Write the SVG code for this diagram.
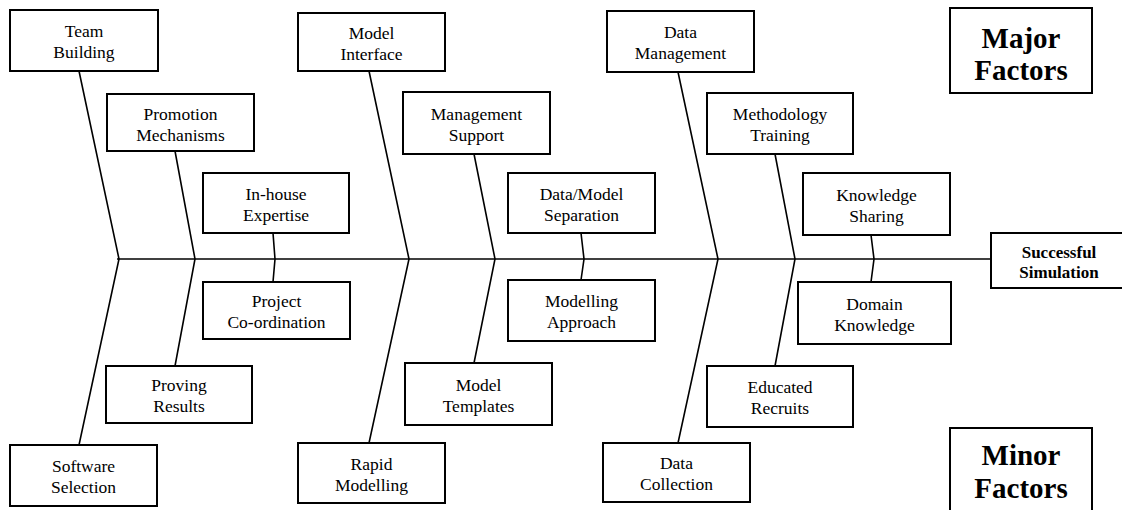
<svg xmlns="http://www.w3.org/2000/svg" width="1122" height="510" viewBox="0 0 1122 510">
<style>
.box{fill:#fff;stroke:#000;stroke-width:2}
.lbl{font-family:"Liberation Serif","Times New Roman",serif;font-size:17.5px;text-anchor:middle;fill:#000}
.big{font-family:"Liberation Serif","Times New Roman",serif;font-size:29px;font-weight:bold;text-anchor:middle;fill:#000}
.res{font-family:"Liberation Serif","Times New Roman",serif;font-size:17px;font-weight:bold;text-anchor:middle;fill:#000}
.ln{stroke:#000;stroke-width:1.6;fill:none}
</style>
<rect width="1122" height="510" fill="#fff"/>
<g id="connectors">
<line class="ln" x1="117" y1="259" x2="991" y2="259"/>
<polyline class="ln" points="79,71 119,259 79,445"/>
<polyline class="ln" points="175,151 195,259 175,366"/>
<polyline class="ln" points="273,233 275,259 273,282"/>
<polyline class="ln" points="369,71 409,259 369,443"/>
<polyline class="ln" points="474,154 495,259 474,363"/>
<polyline class="ln" points="581,233 584,259 581,280"/>
<polyline class="ln" points="678,72 718,259 678,443"/>
<polyline class="ln" points="775,154 795,259 775,366"/>
<polyline class="ln" points="871,235 874,259 871,282"/>
</g>
<g id="team-building"><rect class="box" x="10" y="10" width="148" height="61"/><text class="lbl" x="84" y="37">Team</text><text class="lbl" x="84" y="58">Building</text></g>
<g id="promotion-mechanisms"><rect class="box" x="107" y="94" width="147" height="57"/><text class="lbl" x="180.5" y="120">Promotion</text><text class="lbl" x="180.5" y="141">Mechanisms</text></g>
<g id="in-house-expertise"><rect class="box" x="203" y="173" width="146" height="60"/><text class="lbl" x="276" y="200">In-house</text><text class="lbl" x="276" y="221">Expertise</text></g>
<g id="model-interface"><rect class="box" x="298" y="13" width="147" height="58"/><text class="lbl" x="371.5" y="39">Model</text><text class="lbl" x="371.5" y="60">Interface</text></g>
<g id="management-support"><rect class="box" x="403" y="92" width="147" height="62"/><text class="lbl" x="476.5" y="120">Management</text><text class="lbl" x="476.5" y="141">Support</text></g>
<g id="data-model-separation"><rect class="box" x="508" y="173" width="147" height="60"/><text class="lbl" x="581.5" y="200">Data/Model</text><text class="lbl" x="581.5" y="221">Separation</text></g>
<g id="data-management"><rect class="box" x="607" y="11" width="147" height="61"/><text class="lbl" x="680.5" y="38">Data</text><text class="lbl" x="680.5" y="59">Management</text></g>
<g id="methodology-training"><rect class="box" x="707" y="93" width="146" height="61"/><text class="lbl" x="780" y="120">Methodology</text><text class="lbl" x="780" y="141">Training</text></g>
<g id="knowledge-sharing"><rect class="box" x="803" y="173" width="147" height="62"/><text class="lbl" x="876.5" y="201">Knowledge</text><text class="lbl" x="876.5" y="222">Sharing</text></g>
<g id="major-factors"><rect class="box" x="950" y="8" width="142" height="85"/><text class="big" x="1021" y="48">Major</text><text class="big" x="1021" y="80">Factors</text></g>
<g id="successful-simulation"><rect class="box" x="991" y="233" width="136" height="55"/><text class="res" x="1059" y="258">Successful</text><text class="res" x="1059" y="278">Simulation</text></g>
<g id="software-selection"><rect class="box" x="10" y="445" width="147" height="61"/><text class="lbl" x="83.5" y="472">Software</text><text class="lbl" x="83.5" y="493">Selection</text></g>
<g id="proving-results"><rect class="box" x="106" y="366" width="146" height="57"/><text class="lbl" x="179" y="391">Proving</text><text class="lbl" x="179" y="412">Results</text></g>
<g id="project-coordination"><rect class="box" x="203" y="282" width="147" height="57"/><text class="lbl" x="276.5" y="307">Project</text><text class="lbl" x="276.5" y="328">Co-ordination</text></g>
<g id="rapid-modelling"><rect class="box" x="298" y="443" width="147" height="60"/><text class="lbl" x="371.5" y="470">Rapid</text><text class="lbl" x="371.5" y="491">Modelling</text></g>
<g id="model-templates"><rect class="box" x="405" y="363" width="147" height="62"/><text class="lbl" x="478.5" y="391">Model</text><text class="lbl" x="478.5" y="412">Templates</text></g>
<g id="modelling-approach"><rect class="box" x="508" y="280" width="147" height="61"/><text class="lbl" x="581.5" y="307">Modelling</text><text class="lbl" x="581.5" y="328">Approach</text></g>
<g id="data-collection"><rect class="box" x="603" y="443" width="147" height="59"/><text class="lbl" x="676.5" y="469">Data</text><text class="lbl" x="676.5" y="490">Collection</text></g>
<g id="educated-recruits"><rect class="box" x="707" y="366" width="146" height="61"/><text class="lbl" x="780" y="393">Educated</text><text class="lbl" x="780" y="414">Recruits</text></g>
<g id="domain-knowledge"><rect class="box" x="798" y="282" width="153" height="62"/><text class="lbl" x="874.5" y="310">Domain</text><text class="lbl" x="874.5" y="331">Knowledge</text></g>
<g id="minor-factors"><rect class="box" x="950" y="428" width="142" height="90"/><text class="big" x="1021" y="465">Minor</text><text class="big" x="1021" y="498">Factors</text></g>
</svg>
